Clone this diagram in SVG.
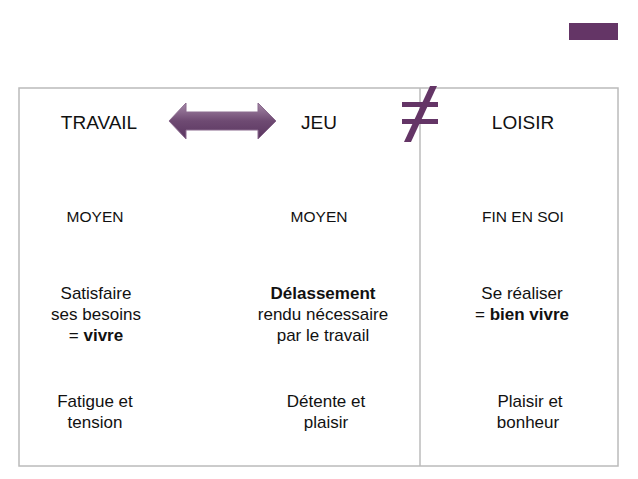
<svg xmlns="http://www.w3.org/2000/svg" width="638" height="479" viewBox="0 0 638 479">
<defs>
<linearGradient id="g" x1="0" y1="0" x2="0" y2="1"><stop offset="0" stop-color="#a689a8"/><stop offset="0.5" stop-color="#6e4a72"/><stop offset="1" stop-color="#5a3560"/></linearGradient>
</defs>
<style>
text{font-family:"Liberation Sans",Arial,sans-serif;fill:#111;text-anchor:middle}
.h{font-size:19px}.s{font-size:15.5px}.b{font-size:17px}
</style>
<rect width="638" height="479" fill="#fff"/>
<rect x="569" y="23" width="49" height="17" fill="#643566"/>
<g id="frame" fill="none" stroke="#bbb" stroke-width="1.5">
<rect x="19" y="88" width="599" height="378"/>
<line x1="420" y1="88" x2="420" y2="466"/>
</g>
<g id="connectors">
<path d="M169,121 L186,103 L186,112 L258,112 L258,103 L276,121 L258,139 L258,130 L186,130 L186,139 Z" fill="url(#g)" stroke="#8a6a8e" stroke-width="1"/>
<g fill="#643566"><rect x="402" y="102" width="36" height="5"/><rect x="402" y="119" width="36" height="5"/><polygon points="430,86 437,86 411,142 404,142"/></g>
</g>
<g id="travail"><text class="h" x="99" y="129">TRAVAIL</text><text class="s" x="95" y="222">MOYEN</text>
<text class="b" x="96" y="299">Satisfaire</text><text class="b" x="96" y="320">ses besoins</text><text class="b" x="96" y="341">= <tspan font-weight="bold">vivre</tspan></text>
<text class="b" x="95" y="407">Fatigue et</text><text class="b" x="95" y="428">tension</text></g>
<g id="jeu"><text class="h" x="319" y="129">JEU</text><text class="s" x="319" y="222">MOYEN</text>
<text class="b" x="323" y="299" font-weight="bold">Délassement</text><text class="b" x="323" y="320">rendu nécessaire</text><text class="b" x="323" y="341">par le travail</text>
<text class="b" x="326" y="407">Détente et</text><text class="b" x="326" y="428">plaisir</text></g>
<g id="loisir"><text class="h" x="523" y="129">LOISIR</text><text class="s" x="523" y="222">FIN EN SOI</text>
<text class="b" x="522" y="299">Se réaliser</text><text class="b" x="522" y="320">= <tspan font-weight="bold">bien vivre</tspan></text>
<text class="b" x="530" y="407">Plaisir et</text><text class="b" x="528" y="428">bonheur</text></g>
</svg>
